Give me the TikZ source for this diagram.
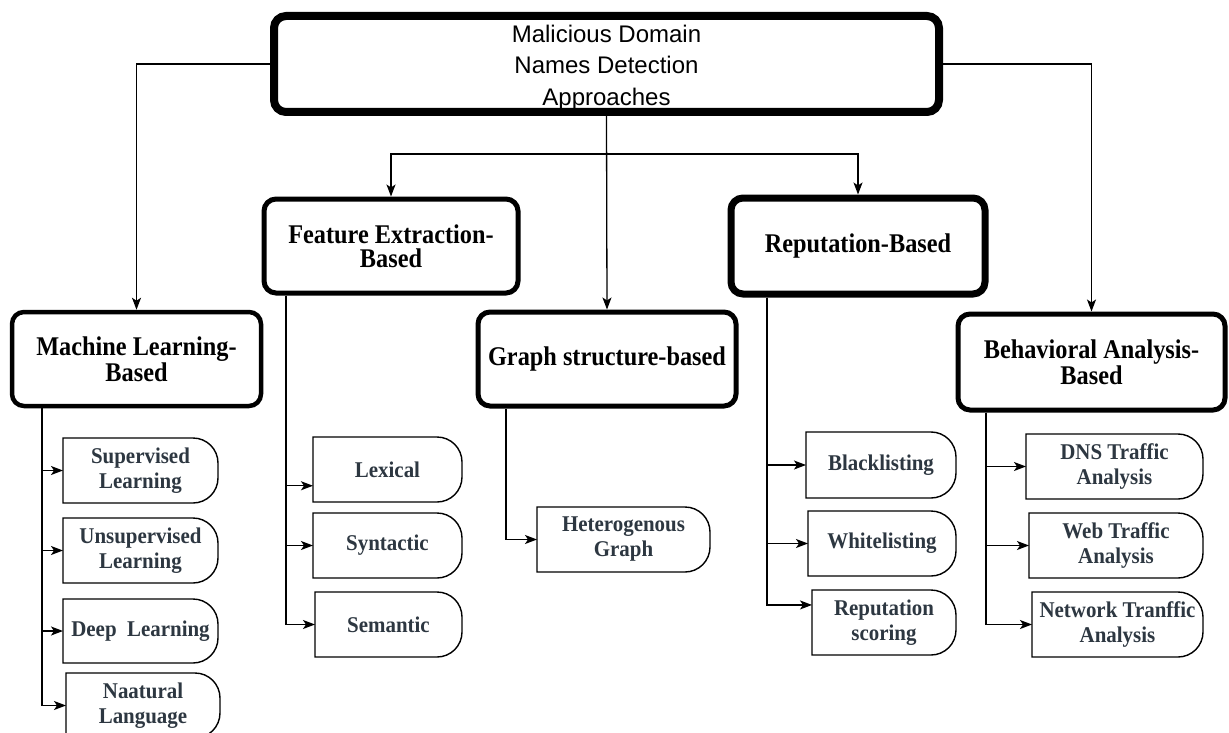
\documentclass[tikz,border=0pt]{standalone}
\usepackage{fontspec}
\setmainfont{Liberation Serif}
\newfontfamily\topfont{Liberation Sans}
\newfontfamily\headfont{Liberation Serif Bold}[FakeStretch=0.9]
\newfontfamily\leaffont{Liberation Serif Bold}[FakeStretch=0.93]
\usetikzlibrary{arrows.meta,calc}
\definecolor{leafgray}{RGB}{45,55,65}

% leaf box: square left side, rounded right side
\newcommand\leafnode[6]{%
  \node[leaftext, minimum width=#4pt, minimum height=#5pt] (#1) at (#2,#3) {#6};
  \draw[leafline] (#1.north) [rounded corners=25pt] -- (#1.north east) -- (#1.south east) -- (#1.south)
    [sharp corners] -- (#1.south west) -- (#1.north west) -- cycle;
}

\begin{document}
\begin{tikzpicture}[x=1pt,y=-1pt,
  conn/.style={line width=1.3pt, -{Stealth[length=12pt,width=9pt,inset=3pt]}},
  head/.style={draw, rounded corners=12pt, line width=5pt, inner sep=0pt, align=center,
    font=\headfont\fontsize{27}{24}\selectfont},
  leaftext/.style={inner sep=0pt, outer sep=0pt, align=center, text=leafgray,
    font=\leaffont\fontsize{22.5}{25}\selectfont},
  leafline/.style={line width=1.4pt}
]
\useasboundingbox (0,0) rectangle (1229,733);
\fill[white] (0,0) rectangle (1229,733);
\clip (0,0) rectangle (1229,733);

% root
\node[head, line width=8pt, font=\topfont\fontsize{24}{31.5}\selectfont,
  minimum width=665pt, minimum height=96pt] (top) at (606.5,64)
  {\rule{0pt}{24pt}Malicious Domain\\Names Detection\\Approaches};

% categories
\node[head, minimum width=254pt, minimum height=94pt] (fe) at (391,246) {Feature Extraction-\\Based};
\node[head, line width=7pt, minimum width=254pt, minimum height=96pt] (rep) at (858,246) {Reputation-Based};
\node[head, line width=4.5pt, minimum width=249pt, minimum height=94pt] (ml) at (136.5,359) {Machine Learning-\\Based};
\node[head, minimum width=258pt, minimum height=94pt] (graph) at (607,359) {Graph structure-based};
\node[head, minimum width=267pt, minimum height=96pt] (ba) at (1091.5,362) {Behavioral Analysis-\\Based};

% root connectors
\draw[conn] (top.west) -| (ml.north);
\draw[conn] (top.east) -| (ba.north);
\draw[conn] (top.south) -- (graph.north);
\coordinate (fork) at (607,154);
\draw[conn] (fork) -| (fe.north);
\draw[conn] (fork) -| (rep.north);

% machine learning leaves
\leafnode{sup}{140.5}{470.5}{155}{65}{Supervised\\Learning}
\leafnode{unsup}{140.5}{550.5}{155}{65}{Unsupervised\\Learning}
\leafnode{deep}{140.5}{631}{155}{64}{Deep\ \ Learning}
\leafnode{nat}{143}{705.5}{154}{65}{Naatural\\Language}
\coordinate (mlx) at (42,0);
\draw[conn] (ml.south -| mlx) |- (sup);
\draw[conn] (ml.south -| mlx) |- (unsup);
\draw[conn] (ml.south -| mlx) |- (deep);
\draw[conn] (ml.south -| mlx) |- (nat);

% feature extraction leaves
\leafnode{lex}{387.5}{469.5}{149}{65}{Lexical}
\leafnode{syn}{387.5}{545.5}{149}{65}{Syntactic}
\leafnode{sem}{388.5}{624.5}{147}{65}{Semantic}
\coordinate (fex) at (286,0);
\draw[conn] (fe.south -| fex) |- ($(lex.south west)!0.25!(lex.north west)$);
\draw[conn] (fe.south -| fex) |- (syn);
\draw[conn] (fe.south -| fex) |- (sem);

% graph leaf
\leafnode{het}{623.5}{539.5}{173}{65}{Heterogenous\\Graph}
\coordinate (grx) at (506,0);
\draw[conn] (graph.south -| grx) |- (het);

% reputation leaves
\leafnode{black}{881}{465}{150}{66}{Blacklisting}
\leafnode{white}{882}{543.5}{148}{65}{Whitelisting}
\leafnode{score}{884}{622.5}{144}{65}{Reputation\\scoring}
\coordinate (repx) at (767,0);
\draw[conn] (rep.south -| repx) |- (black);
\draw[conn] (rep.south -| repx) |- (white);
\draw[conn] (rep.south -| repx) |- ($(score.north west)!0.23!(score.south west)$);

% behavioral analysis leaves
\leafnode{dns}{1114.5}{466.5}{177}{65}{DNS Traffic\\Analysis}
\leafnode{web}{1116}{545.5}{174}{65}{Web Traffic\\Analysis}
\leafnode{net}{1117.5}{624.5}{171}{65}{Network Tranffic\\Analysis}
\coordinate (bax) at (986,0);
\draw[conn] (ba.south -| bax) |- (dns);
\draw[conn] (ba.south -| bax) |- (web);
\draw[conn] (ba.south -| bax) |- (net);
\end{tikzpicture}
\end{document}
